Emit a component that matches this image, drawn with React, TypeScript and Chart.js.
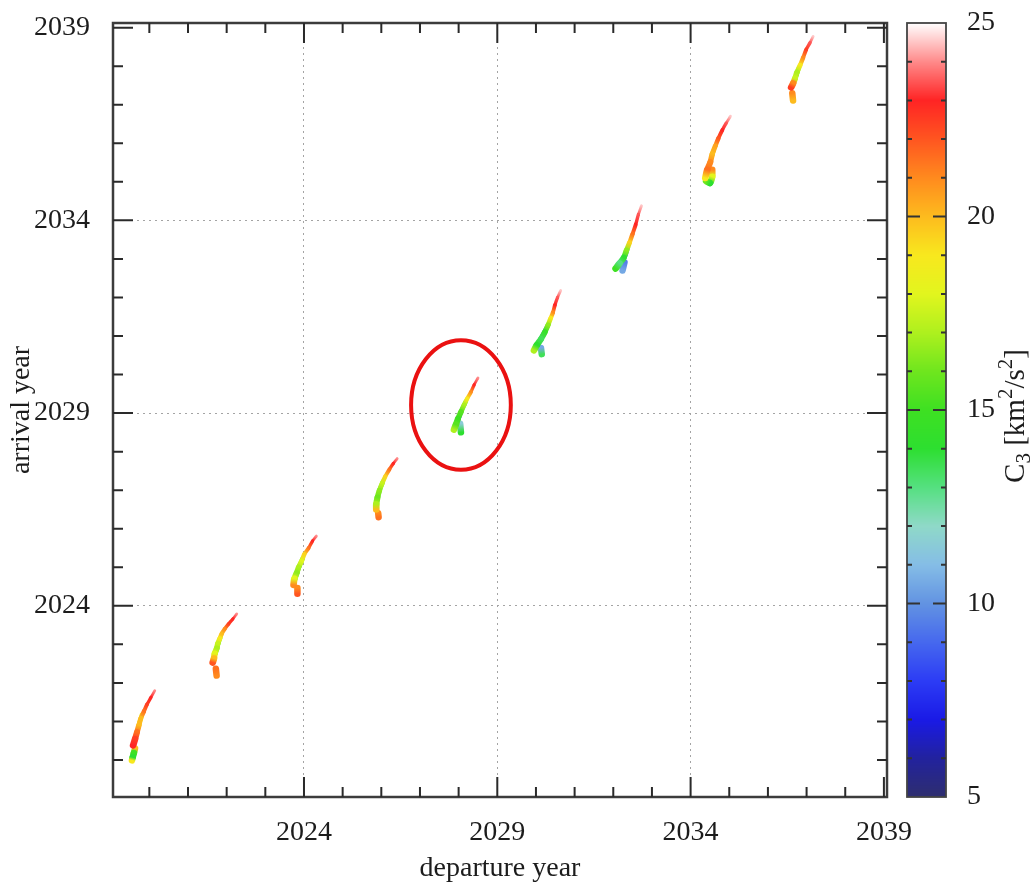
import { useEffect, useRef } from 'react';
import { Chart, registerables } from 'chart.js';

Chart.register(...registerables);

// ---------- axes & tick labels ----------
const xTickLabels = ['2024', '2029', '2034', '2039'];
const yTickLabels = ['2024', '2029', '2034', '2039'];
const c3TickLabels = ['5', '10', '15', '20', '25'];
const departureRange = [2019.06, 2039.08];
const arrivalRange = [2019.04, 2039.12];
const c3Range = [5, 25];

// ---------- colour palette (C3 value -> colour) ----------
const paletteValues = [5, 6, 7, 8, 9, 10, 11, 12, 13, 14, 15, 16, 17, 18, 19, 20, 21, 22, 23, 24, 25];
const paletteColors = [
  '#2e2e6e', '#22229e', '#1a1ae6', '#2c3cf5', '#4668ee', '#6293e2', '#85bde6', '#8fd9c8',
  '#55e080', '#2ddf30', '#3ee022', '#6fe61e', '#aef01e', '#e2f51e', '#f8e81e', '#fdbb1e',
  '#ff8a1e', '#ff5520', '#ff2424', '#ff8a8a', '#ffffff',
];

// ---------- launch windows: [departure year, arrival year, C3 km^2/s^2] ----------
const win1Streak = [
  [2020.14, 2021.80, 24], [2020.04, 2021.62, 23], [2019.94, 2021.44, 22.5], [2019.86, 2021.26, 21.5],
  [2019.78, 2021.08, 20], [2019.73, 2020.90, 20], [2019.68, 2020.72, 21.5], [2019.63, 2020.54, 22.5],
  [2019.58, 2020.38, 23],
];
const win1Core = [[2019.81, 2021.18, 18.5], [2019.75, 2020.98, 18], [2019.71, 2020.82, 19.5]];
const win1Tail = [[2019.63, 2020.30, 20], [2019.60, 2020.18, 15], [2019.57, 2020.07, 14], [2019.55, 2019.99, 19]];

const win2Streak = [
  [2022.26, 2023.79, 24], [2022.16, 2023.66, 23], [2022.05, 2023.53, 22.5], [2021.95, 2023.40, 21],
  [2021.87, 2023.27, 20], [2021.82, 2023.15, 19], [2021.77, 2023.02, 17.5], [2021.74, 2022.89, 17],
  [2021.69, 2022.76, 18], [2021.67, 2022.63, 20], [2021.64, 2022.53, 22],
];
const win2Core = [[2021.84, 2023.18, 17], [2021.78, 2023.02, 14.5], [2021.75, 2022.89, 14], [2021.71, 2022.76, 15]];
const win2Tail = [[2021.72, 2022.37, 21.5], [2021.74, 2022.19, 21]];

const win3Streak = [
  [2024.32, 2025.81, 24], [2024.22, 2025.68, 23], [2024.12, 2025.50, 21.5], [2024.01, 2025.34, 19.5],
  [2023.94, 2025.16, 18], [2023.86, 2025.00, 17], [2023.81, 2024.85, 16.5], [2023.75, 2024.70, 18],
  [2023.73, 2024.54, 21],
];
const win3Core = [[2023.97, 2025.24, 16], [2023.88, 2025.03, 14], [2023.82, 2024.85, 13.5], [2023.77, 2024.68, 14.5]];
const win3Tail = [[2023.83, 2024.46, 21], [2023.83, 2024.31, 22]];

const win4Streak = [
  [2026.41, 2027.82, 24], [2026.31, 2027.69, 23], [2026.21, 2027.54, 21.5], [2026.10, 2027.35, 19.5],
  [2026.02, 2027.17, 17.5], [2025.95, 2026.99, 16.5], [2025.90, 2026.81, 16], [2025.87, 2026.63, 17],
  [2025.87, 2026.50, 20],
];
const win4Core = [[2026.04, 2027.22, 15.5], [2025.96, 2027.01, 13.5], [2025.91, 2026.81, 12], [2025.88, 2026.65, 13]];
const win4Tail = [[2025.92, 2026.40, 21], [2025.93, 2026.30, 21.5]];

const win5Streak = [
  [2028.50, 2029.91, 24], [2028.40, 2029.73, 23], [2028.32, 2029.55, 21], [2028.22, 2029.37, 19],
  [2028.14, 2029.21, 17], [2028.06, 2029.03, 15.5], [2027.98, 2028.85, 15], [2027.93, 2028.70, 15.5],
  [2027.88, 2028.57, 17],
];
const win5Core = [[2028.18, 2029.29, 14.5], [2028.09, 2029.10, 11], [2028.02, 2028.92, 9.5], [2027.98, 2028.78, 10]];
const win5Tail = [[2028.04, 2028.72, 11.5], [2028.06, 2028.50, 14]];

const win6Streak = [
  [2030.64, 2032.18, 24.5], [2030.56, 2032.00, 23.5], [2030.49, 2031.80, 23], [2030.44, 2031.61, 21],
  [2030.38, 2031.46, 19], [2030.31, 2031.28, 16.5], [2030.23, 2031.10, 14.5], [2030.13, 2030.92, 13.5],
  [2030.02, 2030.76, 14], [2029.95, 2030.63, 17],
];
const win6Core = [[2030.33, 2031.32, 13.5], [2030.25, 2031.16, 9.5], [2030.15, 2030.97, 8.5], [2030.07, 2030.81, 9]];
const win6Tail = [[2030.13, 2030.69, 10.5], [2030.15, 2030.53, 13.5]];

const win7Streak = [
  [2032.73, 2034.38, 24.5], [2032.65, 2034.15, 23.5], [2032.58, 2033.89, 23], [2032.50, 2033.65, 21.5],
  [2032.42, 2033.42, 19.5], [2032.34, 2033.22, 16.5], [2032.27, 2033.03, 14], [2032.16, 2032.88, 13],
  [2032.06, 2032.75, 15],
];
const win7Core = [[2032.38, 2033.30, 13.5], [2032.32, 2033.11, 9.5], [2032.25, 2032.98, 8.5], [2032.18, 2032.88, 9.5]];
const win7Tail = [[2032.29, 2032.91, 9.5], [2032.24, 2032.70, 10.5]];

const win8Streak = [
  [2035.03, 2036.70, 24.5], [2034.92, 2036.52, 23.5], [2034.82, 2036.34, 23], [2034.72, 2036.13, 22],
  [2034.64, 2035.93, 20.5], [2034.56, 2035.72, 20], [2034.51, 2035.51, 21], [2034.43, 2035.31, 21.5],
  [2034.38, 2035.10, 19],
];
const win8Core = [[2034.60, 2035.82, 19.5], [2034.53, 2035.61, 19.5]];
const win8Tail = [[2034.56, 2035.31, 21], [2034.56, 2035.13, 18], [2034.50, 2034.97, 14], [2034.40, 2035.02, 16]];

const win9Streak = [
  [2037.17, 2038.77, 24.5], [2037.09, 2038.61, 23.5], [2036.99, 2038.43, 22.5], [2036.91, 2038.22, 21],
  [2036.83, 2038.02, 19], [2036.75, 2037.84, 17], [2036.70, 2037.68, 17.5], [2036.65, 2037.55, 21],
  [2036.60, 2037.45, 22.5],
];
const win9Core = [[2036.80, 2037.95, 17], [2036.74, 2037.78, 15.5], [2036.70, 2037.66, 16]];
const win9Tail = [[2036.63, 2037.30, 21], [2036.65, 2037.11, 20]];

// highlighted window (ellipse): centre [departure, arrival], half-axes in years
const highlightCenter = [2028.06, 2029.21];
const highlightRadii = [1.29, 1.68];

const windows = [
  { streak: win1Streak, core: win1Core, tail: win1Tail },
  { streak: win2Streak, core: win2Core, tail: win2Tail },
  { streak: win3Streak, core: win3Core, tail: win3Tail },
  { streak: win4Streak, core: win4Core, tail: win4Tail },
  { streak: win5Streak, core: win5Core, tail: win5Tail },
  { streak: win6Streak, core: win6Core, tail: win6Tail },
  { streak: win7Streak, core: win7Core, tail: win7Tail },
  { streak: win8Streak, core: win8Core, tail: win8Tail },
  { streak: win9Streak, core: win9Core, tail: win9Tail },
];

const FONT = '"Liberation Serif", "Times New Roman", serif';
const TEXT = '#1c1c1c';
const CLEAR = 'rgba(0,0,0,0)';

function hexToRgb(h: string) {
  const n = parseInt(h.slice(1), 16);
  return [(n >> 16) & 255, (n >> 8) & 255, n & 255];
}

function colorFor(v: number): string {
  const vs = paletteValues;
  if (v <= vs[0]) return paletteColors[0];
  if (v >= vs[vs.length - 1]) return paletteColors[vs.length - 1];
  let i = 0;
  while (v > vs[i + 1]) i++;
  const t = (v - vs[i]) / (vs[i + 1] - vs[i]);
  const a = hexToRgb(paletteColors[i]);
  const b = hexToRgb(paletteColors[i + 1]);
  const c = a.map((av, k) => Math.round(av + (b[k] - av) * t));
  return `rgb(${c[0]},${c[1]},${c[2]})`;
}

const toPoints = (arr: number[][]) => arr.map(([x, y, c3]) => ({ x, y, c3 }));

const gradientColor = (ctx: any) => {
  const ds = ctx.chart.data.datasets[ctx.datasetIndex];
  const a = ds.data[ctx.p0DataIndex].c3;
  const b = ds.data[ctx.p1DataIndex].c3;
  const p0 = ctx.p0;
  const p1 = ctx.p1;
  if (Math.abs(p0.x - p1.x) < 0.01 && Math.abs(p0.y - p1.y) < 0.01) return colorFor(a);
  const g = ctx.chart.ctx.createLinearGradient(p0.x, p0.y, p1.x, p1.y);
  g.addColorStop(0, colorFor(a));
  g.addColorStop(1, colorFor(b));
  return g;
};

const segWidth = (ctx: any) => {
  const ds = ctx.chart.data.datasets[ctx.datasetIndex];
  if (ds.kind === 'streak') {
    const n = Math.max(1, ds.data.length - 1);
    return 2.8 + 4.4 * (ctx.p0DataIndex / n);
  }
  if (ds.kind === 'tail') return 6.5;
  return 4.5;
};

function buildDatasets() {
  const out: any[] = [];
  const push = (arr: number[][], kind: string) =>
    out.push({
      kind,
      data: toPoints(arr),
      showLine: true,
      pointRadius: 0,
      pointHoverRadius: 0,
      borderWidth: 4,
      borderCapStyle: 'round',
      borderJoinStyle: 'round',
      tension: kind === 'streak' ? 0.3 : 0.2,
      segment: { borderColor: gradientColor, borderWidth: segWidth },
    });
  windows.forEach((w) => push(w.streak, 'streak'));
  windows.forEach((w) => push(w.tail, 'tail'));
  windows.forEach((w) => push(w.core, 'core'));
  return out;
}

const decorPlugin = {
  id: 'decor',
  beforeDatasetsDraw(chart: any) {
    chart.ctx.save();
    chart.ctx.filter = 'blur(0.7px)';
  },
  afterDatasetsDraw(chart: any) {
    chart.ctx.restore();
  },
  afterDraw(chart: any) {
    const ctx = chart.ctx as CanvasRenderingContext2D;
    const { left, right, top, bottom } = chart.chartArea;
    const xs = chart.scales.x;
    const ys = chart.scales.y;
    const cs = chart.scales.c3;
    const majorX = xTickLabels.map(Number);
    const majorY = yTickLabels.map(Number);

    // --- frame ---
    ctx.save();
    ctx.strokeStyle = '#3c3c3c';
    ctx.lineWidth = 2.5;
    ctx.strokeRect(left, top, right - left, bottom - top);

    // --- inward ticks on all four sides ---
    ctx.strokeStyle = '#2a2a2a';
    ctx.lineWidth = 2;
    ctx.beginPath();
    xs.ticks.forEach((t: any) => {
      const px = xs.getPixelForValue(t.value);
      const len = majorX.includes(t.value) ? 20 : 10;
      ctx.moveTo(px, bottom);
      ctx.lineTo(px, bottom - len);
      ctx.moveTo(px, top);
      ctx.lineTo(px, top + len);
    });
    ys.ticks.forEach((t: any) => {
      const py = ys.getPixelForValue(t.value);
      const len = majorY.includes(t.value) ? 20 : 10;
      ctx.moveTo(left, py);
      ctx.lineTo(left + len, py);
      ctx.moveTo(right, py);
      ctx.lineTo(right - len, py);
    });
    ctx.stroke();

    // --- highlight ellipse ---
    const cx = xs.getPixelForValue(highlightCenter[0]);
    const cy = ys.getPixelForValue(highlightCenter[1]);
    const rx = xs.getPixelForValue(highlightCenter[0] + highlightRadii[0]) - cx;
    const ry = cy - ys.getPixelForValue(highlightCenter[1] + highlightRadii[1]);
    ctx.beginPath();
    ctx.ellipse(cx, cy, rx, ry, 0, 0, Math.PI * 2);
    ctx.strokeStyle = '#ea1111';
    ctx.lineWidth = 4;
    ctx.stroke();

    // --- colour bar ---
    const cbL = cs.left + 20;
    const cbW = 39;
    const cbTop = cs.getPixelForValue(c3Range[1]);
    const cbBot = cs.getPixelForValue(c3Range[0]);
    for (let py = Math.floor(cbTop); py < cbBot; py++) {
      ctx.fillStyle = colorFor(cs.getValueForPixel(py + 0.5));
      ctx.fillRect(cbL, py, cbW, 1);
    }
    ctx.strokeStyle = '#444';
    ctx.lineWidth = 1.8;
    ctx.strokeRect(cbL, cbTop, cbW, cbBot - cbTop);
    ctx.beginPath();
    for (let v = c3Range[0] + 1; v < c3Range[1]; v++) {
      const py = cs.getPixelForValue(v);
      const major = v % 5 === 0;
      const len = major ? 13 : 5;
      ctx.moveTo(cbL, py);
      ctx.lineTo(cbL + len, py);
      ctx.moveTo(cbL + cbW, py);
      ctx.lineTo(cbL + cbW - len, py);
    }
    ctx.strokeStyle = '#333';
    ctx.lineWidth = 2;
    ctx.stroke();

    // --- colour bar title: C3 [km2/s2] with sub/superscripts ---
    const main = `29px ${FONT}`;
    const small = `21px ${FONT}`;
    const pieces: [string, string, number][] = [
      ['C', main, 0],
      ['3', small, 6],
      [' [km', main, 0],
      ['2', small, -12],
      ['/s', main, 0],
      ['2', small, -12],
      [']', main, 0],
    ];
    let total = 0;
    pieces.forEach(([t, f]) => {
      ctx.font = f;
      total += ctx.measureText(t).width;
    });
    ctx.translate(1024, 416);
    ctx.rotate(-Math.PI / 2);
    ctx.fillStyle = TEXT;
    ctx.textBaseline = 'alphabetic';
    ctx.textAlign = 'left';
    let xpos = -total / 2;
    pieces.forEach(([t, f, dy]) => {
      ctx.font = f;
      ctx.fillText(t, xpos, dy);
      xpos += ctx.measureText(t).width;
    });
    ctx.restore();
  },
};

const majorGrid = (labels: string[]) => (ctx: any) => {
  const v = ctx.tick ? ctx.tick.value : null;
  return v !== null && labels.includes(String(v)) && v !== 2039 ? '#a4a4a4' : CLEAR;
};

export default function App() {
  const ref = useRef<HTMLCanvasElement | null>(null);

  useEffect(() => {
    if (!ref.current) return;
    const font = { family: FONT, size: 28 };
    const chart = new Chart(ref.current, {
      type: 'scatter',
      data: { datasets: buildDatasets() },
      options: {
        responsive: false,
        maintainAspectRatio: false,
        animation: false,
        events: [],
        layout: { padding: { top: 23, left: 0, right: 0, bottom: 0 } },
        plugins: { legend: { display: false }, tooltip: { enabled: false } },
        scales: {
          x: {
            type: 'linear',
            min: departureRange[0],
            max: departureRange[1],
            afterFit: (s: any) => { s.height = 88; },
            ticks: {
              stepSize: 1,
              maxTicksLimit: 100,
              includeBounds: false,
              autoSkip: false,
              maxRotation: 0,
              minRotation: 0,
              padding: 0,
              font,
              color: TEXT,
              callback: (v: any) => (xTickLabels.includes(String(v)) ? String(v) : ''),
            },
            grid: { drawTicks: true, tickLength: 19, tickColor: CLEAR, lineWidth: 1, color: majorGrid(xTickLabels) },
            border: { display: false, dash: [2, 4] },
            title: { display: true, text: 'departure year', font, color: TEXT, padding: 0 },
          },
          y: {
            type: 'linear',
            min: arrivalRange[0],
            max: arrivalRange[1],
            afterFit: (s: any) => { s.width = 113; },
            ticks: {
              stepSize: 1,
              maxTicksLimit: 100,
              includeBounds: false,
              autoSkip: false,
              padding: 0,
              font,
              color: TEXT,
              callback: (v: any) => (yTickLabels.includes(String(v)) ? String(v) : ''),
            },
            grid: { drawTicks: true, tickLength: 23, tickColor: CLEAR, lineWidth: 1, color: majorGrid(yTickLabels) },
            border: { display: false, dash: [2, 4] },
            title: { display: true, text: 'arrival year', font, color: TEXT, padding: { top: 5, bottom: 0 } },
          },
          c3: {
            type: 'linear',
            position: 'right',
            min: c3Range[0],
            max: c3Range[1],
            afterFit: (s: any) => { s.width = 146; },
            ticks: {
              stepSize: 5,
              maxTicksLimit: 100,
              autoSkip: false,
              padding: 0,
              font,
              color: TEXT,
              callback: (v: any) => (c3TickLabels.includes(String(v)) ? String(v) : ''),
            },
            grid: { drawOnChartArea: false, drawTicks: true, tickLength: 80, color: CLEAR, tickColor: CLEAR },
            border: { display: false },
          },
        },
      } as any,
      plugins: [decorPlugin],
    });
    return () => chart.destroy();
  }, []);

  return (
    <div style={{ position: 'absolute', left: 0, top: 0, width: 1033, height: 885, background: '#fff' }}>
      <canvas ref={ref} width={1033} height={885} style={{ width: 1033, height: 885, display: 'block' }} />
    </div>
  );
}
